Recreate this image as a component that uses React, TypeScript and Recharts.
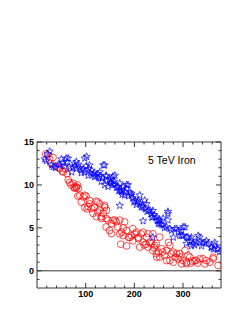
import React from 'react';
import { ScatterChart, Scatter, XAxis, YAxis, ReferenceLine } from 'recharts';

const xTicks = [20, 40, 60, 80, 100, 120, 140, 160, 180, 200, 220, 240, 260, 280, 300, 320, 340, 360];
const xLabelTicks = [100, 200, 300];
const yTicks = [-1, 0, 1, 2, 3, 4, 5, 6, 7, 8, 9, 10, 11, 12, 13, 14, 15];
const yLabelTicks = [0, 5, 10, 15];
const xDomain = [0, 378];
const yDomain = [-2, 15];
const title = '5 TeV Iron';

const redPoints: [number, number][] = [
  [18, 13.6], [22, 13.5], [26, 13.0], [28, 12.5], [33, 13.2], [38, 12.2], [44, 12.0], [47, 11.9], [52, 11.6], [54, 11.5],
  [58, 11.9], [62, 11.3], [64, 10.6], [67, 10.3], [70, 10.0], [74, 10.2], [76, 9.7], [78, 9.6], [80, 9.8], [81, 9.7],
  [83, 10.0], [85, 9.6], [84, 8.7], [88, 8.8], [91, 8.0], [95, 8.6], [98, 8.8], [101, 8.7], [98, 7.4], [103, 7.2],
  [105, 7.5], [108, 8.2], [108, 7.8], [112, 7.25], [115, 6.7], [118, 7.4], [122, 6.3], [122, 8.1], [125, 8.0], [125, 6.85],
  [129, 7.8], [129, 7.1], [132, 6.1], [132, 6.3], [136, 6.7], [139, 7.6], [139, 7.4], [143, 7.05], [142, 6.1], [142, 5.1],
  [146, 5.9], [149, 4.7], [153, 5.5], [153, 4.33], [156, 5.9], [160, 5.9], [163, 5.7], [166, 5.1], [170, 5.9], [170, 4.3],
  [172, 3.1], [174, 4.5], [177, 4.1], [177, 5.0], [180, 5.7], [184, 4.7], [184, 2.9], [188, 3.9], [191, 3.9], [194, 4.1],
  [197, 3.5], [197, 4.9], [201, 4.3], [204, 4.5], [208, 3.74], [208, 3.9], [211, 2.76], [214, 4.3], [218, 4.5], [218, 3.35],
  [220, 3.0], [224, 3.1], [225, 3.9], [228, 4.33], [228, 2.76], [232, 3.35], [235, 3.16], [238, 4.3], [238, 2.37], [240, 2.7],
  [242, 2.96], [245, 3.16], [245, 1.98], [246, 1.6], [249, 2.18], [252, 3.93], [252, 1.6], [256, 2.57], [258, 2.2], [262, 1.8],
  [266, 2.37], [266, 1.2], [270, 3.3], [273, 2.96], [273, 1.2], [276, 2.0], [280, 2.18], [280, 1.0], [284, 1.6], [287, 2.0],
  [290, 1.4], [293, 2.0], [294, 1.6], [297, 0.8], [300, 1.2], [304, 2.37], [307, 0.82], [307, 1.0], [310, 1.8], [314, 1.59],
  [316, 0.9], [320, 1.1], [324, 1.2], [327, 1.2], [330, 0.9], [334, 1.4], [341, 1.4], [345, 0.8], [348, 1.2], [355, 1.0],
  [362, 1.59], [362, 1.4], [372, 0.62],
];

const bluePoints: [number, number][] = [
  [16, 13.0], [19, 12.8], [22, 13.6], [26, 13.9], [30, 12.3], [33, 12.1], [38, 12.0], [44, 12.4], [47, 12.3], [50, 13.0],
  [53, 12.6], [57, 12.2], [60, 13.1], [62, 12.7], [64, 13.1], [67, 12.1], [71, 11.5], [74, 12.0], [77, 12.5], [78, 12.2],
  [81, 11.9], [81, 12.7], [85, 12.4], [88, 12.0], [91, 11.7], [91, 11.4], [95, 11.8], [98, 11.5], [98, 13.1], [101, 12.2],
  [102, 13.3], [105, 11.1], [106, 11.9], [108, 12.3], [110, 11.4], [112, 11.7], [115, 11.2], [118, 10.95], [118, 11.4], [121, 11.0],
  [125, 11.3], [127, 10.8], [129, 11.5], [129, 11.0], [132, 10.4], [134, 10.8], [136, 12.3], [139, 12.3], [139, 10.0], [142, 11.1],
  [142, 11.0], [144, 10.5], [146, 9.8], [149, 10.6], [151, 10.3], [153, 10.2], [153, 10.7], [156, 11.0], [156, 10.0], [158, 10.4],
  [160, 11.1], [160, 10.0], [163, 9.7], [166, 9.8], [168, 9.3], [170, 10.2], [170, 9.4], [170, 7.6], [173, 9.4], [173, 9.2],
  [175, 8.9], [177, 9.8], [180, 8.8], [181, 9.2], [184, 9.6], [184, 10.0], [187, 10.0], [188, 8.7], [191, 9.1], [194, 8.8],
  [194, 9.0], [197, 8.5], [199, 8.0], [201, 8.2], [204, 7.7], [206, 8.0], [208, 8.2], [211, 8.8], [211, 7.9], [214, 7.4],
  [216, 7.6], [218, 7.4], [218, 5.8], [221, 8.2], [222, 7.2], [225, 7.8], [226, 6.9], [229, 7.0], [232, 7.05], [235, 6.67],
  [236, 6.2], [238, 7.0], [238, 6.27], [238, 3.9], [241, 6.5], [245, 6.27], [247, 5.8], [249, 5.9], [249, 5.5], [252, 5.5],
  [252, 5.9], [255, 5.4], [259, 6.1], [259, 5.3], [262, 5.0], [266, 5.1], [269, 6.9], [269, 6.67], [269, 5.9], [273, 4.9],
  [276, 4.7], [280, 3.9], [283, 4.9], [287, 4.9], [290, 4.6], [293, 4.1], [297, 4.7], [297, 4.1], [300, 4.1], [300, 5.1],
  [304, 5.1], [307, 3.9], [307, 3.16], [310, 3.93], [313, 3.4], [317, 3.9], [317, 3.54], [317, 2.9], [321, 3.16], [324, 3.0],
  [327, 3.3], [331, 4.1], [334, 3.35], [334, 3.9], [338, 2.9], [341, 3.2], [345, 3.3], [348, 3.5], [352, 3.2], [358, 2.7],
  [358, 2.76], [362, 2.5], [365, 3.3], [365, 2.96], [370, 2.6], [372, 2.5], [375, 2.2],
];

const redData = redPoints.map(([x, y]) => ({ x, y }));
const blueData = bluePoints.map(([x, y]) => ({ x, y }));

const FONT = 'Liberation Sans, Arial, Helvetica, sans-serif';
const FRAME = '#333';
const MAJ = 5;
const MIN = 2.5;

const XTickBottom = (p: any) => {
  const v = p.payload.value;
  const major = xLabelTicks.includes(v);
  return (
    <g>
      <line x1={p.x} x2={p.x} y1={p.y} y2={p.y - (major ? MAJ : MIN)} stroke={FRAME} strokeWidth={1} />
      {major && (
        <text x={p.x} y={p.y + 8.5} textAnchor="middle" fontFamily={FONT} fontWeight="bold" fontSize={9} fill="#000">
          {v}
        </text>
      )}
    </g>
  );
};

const XTickTop = (p: any) => {
  const v = p.payload.value;
  const major = xLabelTicks.includes(v);
  return <line x1={p.x} x2={p.x} y1={p.y} y2={p.y + (major ? MAJ : MIN)} stroke={FRAME} strokeWidth={1} />;
};

const YTickLeft = (p: any) => {
  const v = p.payload.value;
  const major = yLabelTicks.includes(v);
  return (
    <g>
      <line x1={p.x} x2={p.x + (major ? MAJ : MIN)} y1={p.y} y2={p.y} stroke={FRAME} strokeWidth={1} />
      {major && (
        <text x={p.x - 3} y={p.y + 3.2} textAnchor="end" fontFamily={FONT} fontWeight="bold" fontSize={9} fill="#000">
          {v}
        </text>
      )}
    </g>
  );
};

const YTickRight = (p: any) => {
  const v = p.payload.value;
  const major = yLabelTicks.includes(v);
  return <line x1={p.x} x2={p.x - (major ? MAJ : MIN)} y1={p.y} y2={p.y} stroke={FRAME} strokeWidth={1} />;
};

const Circle = (p: any) => (
  <circle cx={p.cx} cy={p.cy} r={3.4} fill="none" stroke="#ff0000" strokeWidth={0.7} />
);

const starPath = (cx: number, cy: number) => {
  const R = 3.8;
  const r = 1.6;
  let d = '';
  for (let i = 0; i < 10; i++) {
    const rad = i % 2 === 0 ? R : r;
    const a = -Math.PI / 2 + (i * Math.PI) / 5;
    d += (i === 0 ? 'M' : 'L') + (cx + rad * Math.cos(a)).toFixed(2) + ',' + (cy + rad * Math.sin(a)).toFixed(2);
  }
  return d + 'Z';
};

const Star = (p: any) => <path d={starPath(p.cx, p.cy)} fill="none" stroke="#0000ff" strokeWidth={0.7} />;

export default function App() {
  return (
    <div style={{ position: 'absolute', left: 0, top: 0, width: 247, height: 319, background: '#fff' }}>
      <ScatterChart width={247} height={319} margin={{ top: 141, right: 25, bottom: 30, left: 36 }}>
        <XAxis
          xAxisId="b"
          type="number"
          dataKey="x"
          domain={xDomain}
          allowDataOverflow
          ticks={xTicks}
          interval={0}
          height={1}
          tickSize={0}
          tickMargin={0}
          tick={<XTickBottom />}
          axisLine={{ stroke: FRAME, strokeWidth: 1 }}
          tickLine={false}
        />
        <XAxis
          xAxisId="t"
          orientation="top"
          type="number"
          dataKey="x"
          domain={xDomain}
          allowDataOverflow
          ticks={xTicks}
          interval={0}
          height={1}
          tickSize={0}
          tickMargin={0}
          tick={<XTickTop />}
          axisLine={{ stroke: FRAME, strokeWidth: 1 }}
          tickLine={false}
        />
        <YAxis
          yAxisId="l"
          type="number"
          dataKey="y"
          domain={yDomain}
          allowDataOverflow
          ticks={yTicks}
          interval={0}
          width={1}
          tickSize={0}
          tickMargin={0}
          tick={<YTickLeft />}
          axisLine={{ stroke: FRAME, strokeWidth: 1 }}
          tickLine={false}
        />
        <YAxis
          yAxisId="r"
          orientation="right"
          type="number"
          dataKey="y"
          domain={yDomain}
          allowDataOverflow
          ticks={yTicks}
          interval={0}
          width={1}
          tickSize={0}
          tickMargin={0}
          tick={<YTickRight />}
          axisLine={{ stroke: FRAME, strokeWidth: 1 }}
          tickLine={false}
        />
        <ReferenceLine xAxisId="b" yAxisId="l" y={0} stroke={FRAME} strokeWidth={1} />
        <Scatter xAxisId="b" yAxisId="l" data={redData} shape={Circle} isAnimationActive={false} />
        <Scatter xAxisId="b" yAxisId="l" data={blueData} shape={Star} isAnimationActive={false} />
        <Scatter xAxisId="t" yAxisId="r" data={[]} isAnimationActive={false} />
      </ScatterChart>
      <svg width={247} height={319} style={{ position: 'absolute', left: 0, top: 0, pointerEvents: 'none' }}>
        <text x={148} y={164} fontFamily={FONT} fontSize={10.5} fill="#000">
          {title}
        </text>
      </svg>
    </div>
  );
}
